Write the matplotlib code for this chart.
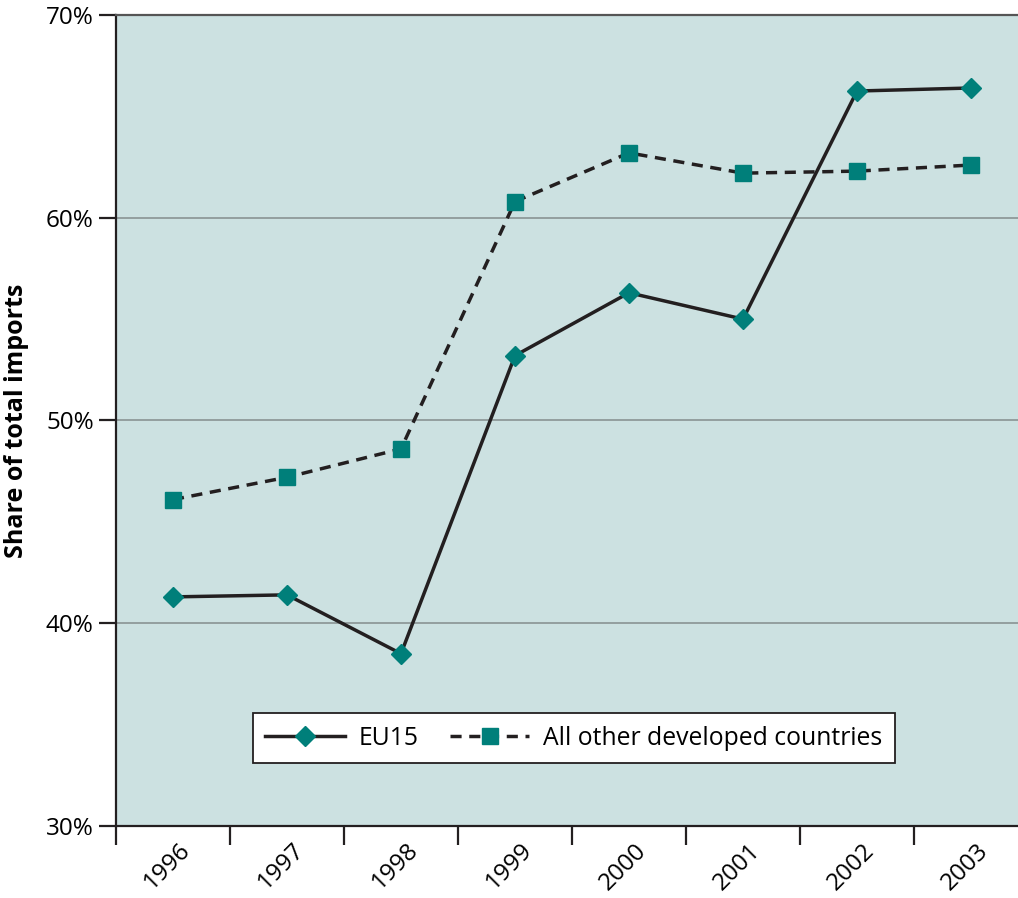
import matplotlib
matplotlib.use("Agg")
import matplotlib.pyplot as plt
from matplotlib.ticker import FixedLocator, FuncFormatter
from matplotlib.transforms import ScaledTranslation

years = ["1996", "1997", "1998", "1999", "2000", "2001", "2002", "2003"]
eu15 = [41.3, 41.4, 38.5, 53.2, 56.3, 55.0, 66.25, 66.4]
other_dev = [46.1, 47.2, 48.6, 60.8, 63.2, 62.2, 62.3, 62.6]
yticks = [30, 40, 50, 60, 70]

plt.rcParams['font.family'] = ['Open Sans', 'DejaVu Sans']

W, H = 1018, 898
fig = plt.figure(figsize=(W / 100, H / 100), dpi=100)
left, right, top, bottom = 116, 1028, 15, 826
ax = fig.add_axes([left / W, 1 - bottom / H, (right - left) / W, (bottom - top) / H])

bg = '#cce1e1'
teal = '#007f7a'
dark = '#231f20'
ax.set_facecolor(bg)

x = list(range(len(years)))
ax.plot(x, eu15, color=dark, lw=2.5, marker='D', ms=10.5, mfc=teal, mec=teal,
        label='EU15', zorder=3)
ax.plot(x, other_dev, color=dark, lw=2.5, ls=(0, (3.2, 2.2)), marker='s', ms=12,
        mfc=teal, mec=teal, label='All other developed countries', zorder=3)

ax.set_xlim(-0.5, len(years) - 0.5)
ax.set_ylim(30, 70)
ax.set_yticks(yticks)
ax.yaxis.set_major_formatter(FuncFormatter(lambda v, p: f"{v:.0f}%"))
for g in yticks[1:-1]:
    ax.axhline(g, color='#8e9a9a', lw=1.3, zorder=1)

ax.set_xticks(x)
ax.set_xticklabels(years, rotation=45, ha='center')
ax.xaxis.set_minor_locator(FixedLocator([i - 0.5 for i in range(len(years) + 1)]))
ax.tick_params(axis='x', which='major', length=0, pad=9, labelsize=17.5)
ax.tick_params(axis='x', which='minor', length=14, width=1.6, color=dark, direction='out')
ax.tick_params(axis='y', length=12, width=1.6, color=dark, labelsize=17.5, pad=4)
shift = ScaledTranslation(-6 / 100, 0, fig.dpi_scale_trans)
for lab in ax.get_xticklabels():
    lab.set_transform(lab.get_transform() + shift)

for s in ['left', 'bottom']:
    ax.spines[s].set_color(dark)
    ax.spines[s].set_linewidth(1.6)
ax.spines['top'].set_color('#555555')
ax.spines['top'].set_linewidth(1.6)
ax.spines['right'].set_visible(False)

ax.set_ylabel('Share of total imports', fontsize=18, fontweight='bold', labelpad=12)

leg = ax.legend(loc='center', bbox_to_anchor=(0.502, 0.1085), ncol=2, frameon=True,
                fancybox=False, edgecolor=dark, facecolor='white', framealpha=1,
                fontsize=17.8, handlelength=3.2, handletextpad=0.55,
                columnspacing=1.3, borderpad=0.5)
leg.get_frame().set_linewidth(1.3)

fig.savefig('out.png', dpi=100)
